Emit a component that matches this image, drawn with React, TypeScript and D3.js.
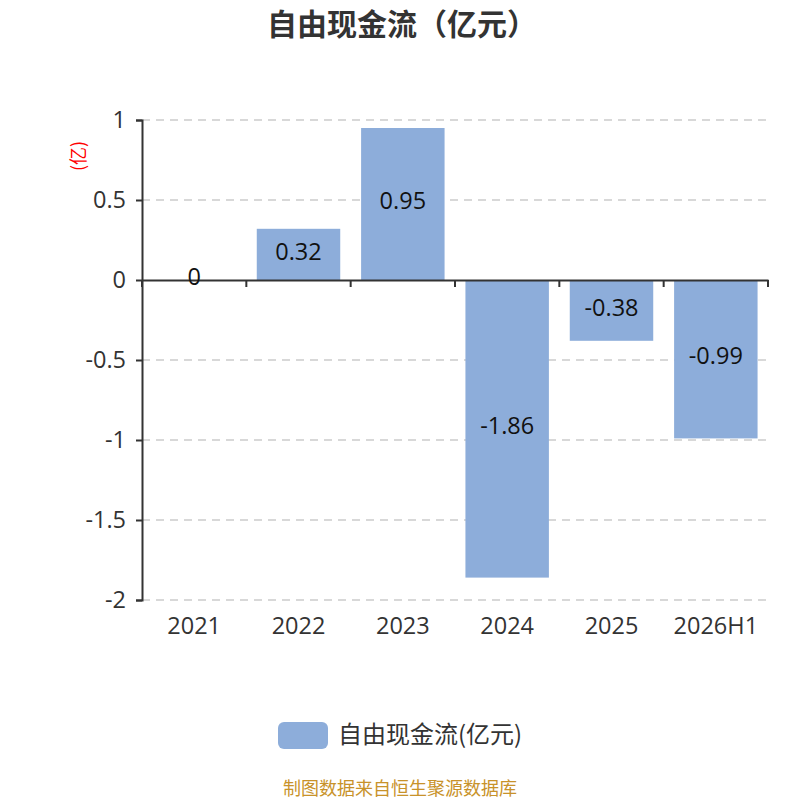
import React, { useEffect, useRef } from 'react';
import * as d3 from 'd3';

const categories = ['2021', '2022', '2023', '2024', '2025', '2026H1'];
const values = [0, 0.32, 0.95, -1.86, -0.38, -0.99];
const yTicks = [1, 0.5, 0, -0.5, -1, -1.5, -2];
const seriesName = '自由现金流(亿元)';

const FONT = '"Open Sans", "Noto Sans CJK SC", sans-serif';
const CJK = '"Noto Sans CJK SC", sans-serif';

export default function App() {
  const svgRef = useRef<SVGSVGElement>(null);

  useEffect(() => {
    if (!svgRef.current) return;
    document.body.style.margin = '0';

    const svg = d3.select(svgRef.current);
    const width = 800;
    const height = 800;
    const margin = { top: 120, right: 32, bottom: 200, left: 142 };

    svg.selectAll('*').remove();
    svg.attr('width', width).attr('height', height).attr('viewBox', [0, 0, width, height]);

    const x = d3.scaleBand()
      .domain(categories)
      .range([margin.left, width - margin.right])
      .paddingInner(0.2)
      .paddingOuter(0.1);

    const y = d3.scaleLinear()
      .domain([-2, 1])
      .range([height - margin.bottom, margin.top]);

    // title
    svg.append('text')
      .attr('x', width / 2 + 2)
      .attr('y', 35)
      .attr('text-anchor', 'middle')
      .attr('font-family', CJK)
      .attr('font-weight', 'bold')
      .attr('font-size', 30)
      .attr('fill', '#333')
      .text('自由现金流（亿元）');

    // grid lines
    svg.append('g')
      .selectAll('line')
      .data(yTicks.filter(d => d !== 0))
      .enter()
      .append('line')
      .attr('x1', margin.left)
      .attr('x2', width - margin.right)
      .attr('y1', d => y(d))
      .attr('y2', d => y(d))
      .attr('stroke', '#ccc')
      .attr('stroke-width', 1.5)
      .attr('stroke-dasharray', '8,6');

    // bars
    svg.append('g')
      .selectAll('rect')
      .data(values)
      .enter()
      .append('rect')
      .attr('x', (_, i) => x(categories[i])!)
      .attr('width', x.bandwidth())
      .attr('y', d => y(Math.max(0, d)))
      .attr('height', d => Math.abs(y(d) - y(0)))
      .attr('fill', '#8dadda');

    // y axis
    const yAxis = d3.axisLeft(y)
      .tickValues(yTicks)
      .tickSize(6)
      .tickPadding(10)
      .tickFormat(d => String(d));

    const gy = svg.append('g')
      .attr('transform', `translate(${margin.left},0)`)
      .call(yAxis);
    gy.select('.domain').attr('stroke', '#333').attr('stroke-width', 2);
    gy.selectAll('.tick line').attr('stroke', '#333').attr('stroke-width', 2);
    gy.selectAll('.tick text')
      .attr('font-family', FONT)
      .attr('font-size', 23.5)
      .attr('fill', '#333');

    // x axis at zero
    const step = x.step();
    const xAxis = d3.axisBottom(x).tickSize(0).tickFormat(() => '');
    const gx = svg.append('g')
      .attr('transform', `translate(0,${y(0)})`)
      .call(xAxis);
    gx.select('.domain').attr('stroke', '#333').attr('stroke-width', 2);
    gx.selectAll('.tick').remove();
    gx.selectAll('line.sep')
      .data(d3.range(categories.length + 1))
      .enter()
      .append('line')
      .attr('class', 'sep')
      .attr('x1', i => margin.left + i * step)
      .attr('x2', i => margin.left + i * step)
      .attr('y1', 0)
      .attr('y2', 7)
      .attr('stroke', '#333')
      .attr('stroke-width', 2);

    // category labels at bottom
    svg.append('g')
      .selectAll('text')
      .data(categories)
      .enter()
      .append('text')
      .attr('x', d => x(d)! + x.bandwidth() / 2)
      .attr('y', y(-2) + 34)
      .attr('text-anchor', 'middle')
      .attr('font-family', FONT)
      .attr('font-size', 23.5)
      .attr('fill', '#333')
      .text(d => d);

    // value labels
    svg.append('g')
      .selectAll('text')
      .data(values)
      .enter()
      .append('text')
      .attr('x', (_, i) => x(categories[i])! + x.bandwidth() / 2)
      .attr('y', d => (y(d) + y(0)) / 2)
      .attr('dy', '0.22em')
      .attr('text-anchor', 'middle')
      .attr('font-family', FONT)
      .attr('font-size', 23.5)
      .attr('fill', '#111')
      .text(d => String(d));

    // y unit label
    svg.append('text')
      .attr('transform', `translate(85,156) rotate(-90)`)
      .attr('text-anchor', 'middle')
      .attr('font-family', CJK)
      .attr('font-size', 18)
      .attr('fill', 'red')
      .text('(亿)');

    // legend
    const legend = svg.append('g');
    legend.append('rect')
      .attr('x', 278)
      .attr('y', 722)
      .attr('width', 50)
      .attr('height', 27)
      .attr('rx', 6)
      .attr('fill', '#8dadda');
    legend.append('text')
      .attr('x', 338)
      .attr('y', 735)
      .attr('dy', '0.35em')
      .attr('font-family', CJK)
      .attr('font-size', 24)
      .attr('fill', '#333')
      .text(seriesName);

    // footer
    svg.append('text')
      .attr('x', width / 2)
      .attr('y', 795)
      .attr('text-anchor', 'middle')
      .attr('font-family', CJK)
      .attr('font-size', 18)
      .attr('fill', '#c8922a')
      .text('制图数据来自恒生聚源数据库');
  }, []);

  return (
    <div>
      <svg ref={svgRef} style={{ display: 'block' }} />
    </div>
  );
}
